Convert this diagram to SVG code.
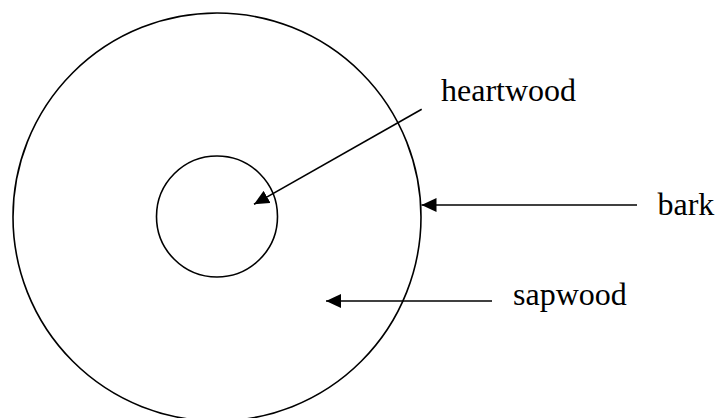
<svg xmlns="http://www.w3.org/2000/svg" width="716" height="418" viewBox="0 0 716 418">
<style>
.ring{fill:none;stroke:#000;stroke-width:1.6}
.conn{fill:none;stroke:#000;stroke-width:1.6}
.lbl{font-family:"Liberation Serif","Times New Roman",serif;font-size:32px;fill:#000}
</style>
<defs>
<marker id="ah" markerUnits="userSpaceOnUse" markerWidth="16" markerHeight="14" viewBox="0 0 16 14" refX="15" refY="7" orient="auto">
<path d="M0,0 L15,7 L0,14 Z" fill="#000"/>
</marker>
</defs>
<rect width="716" height="418" fill="#fff"/>
<g id="bark-ring"><circle class="ring" cx="217" cy="217" r="204"/></g>
<g id="heartwood-ring"><circle class="ring" cx="217" cy="216.5" r="60.5"/></g>
<g id="connectors">
<line class="conn" x1="421.7" y1="109.3" x2="254" y2="204.3" marker-end="url(#ah)"/>
<line class="conn" x1="637" y1="205" x2="421.5" y2="205" marker-end="url(#ah)"/>
<line class="conn" x1="492" y1="301" x2="326" y2="301" marker-end="url(#ah)"/>
</g>
<g id="heartwood-label"><text class="lbl" x="441" y="101">heartwood</text></g>
<g id="bark-label"><text class="lbl" x="657.5" y="215">bark</text></g>
<g id="sapwood-label"><text class="lbl" x="513" y="305">sapwood</text></g>
</svg>
